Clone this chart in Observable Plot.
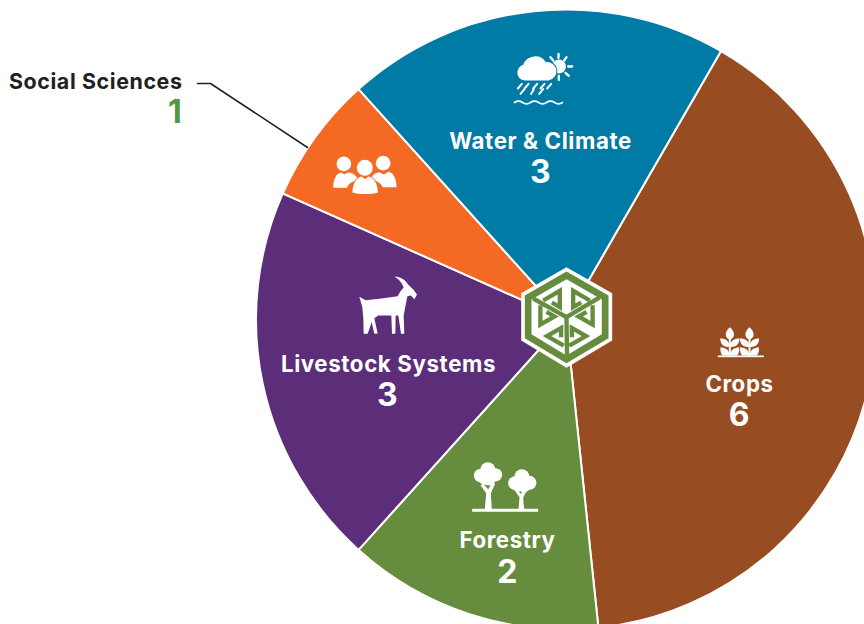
<!DOCTYPE html>
<html>
<head>
<meta charset="utf-8">
<script src="https://cdn.jsdelivr.net/npm/d3@7"></script>
<script src="https://cdn.jsdelivr.net/npm/@observablehq/plot@0.6"></script>
<style>html,body{margin:0;padding:0;background:#fff;overflow:hidden}svg{display:block}</style>
</head>
<body>
<div id="chart"></div>
<script>
const categories = ["Crops", "Forestry", "Livestock Systems", "Social Sciences", "Water & Climate"];
const counts = [6, 2, 3, 1, 3];
const colors = ["#984c22", "#668c3e", "#5c2d78", "#f46a25", "#007ba5"];
const rows = categories.map((category, i) => ({category, count: counts[i]}));

const W = 864, H = 624, CX = 566, CY = 319.5, R = 310;
const START = Math.PI / 6;

const svgUri = (w, h, body) =>
  "data:image/svg+xml," + encodeURIComponent(`<svg xmlns="http://www.w3.org/2000/svg" viewBox="0 0 ${w} ${h}">${body}</svg>`);

const cropPlant = x => `
  <rect x="${x - 3}" y="48" width="6" height="58"/>
  <path d="M${x} 20C${x + 17} 34 ${x + 15} 52 ${x + 2} 56H${x - 2}C${x - 15} 52 ${x - 17} 34 ${x} 20z"/>
  <path d="M${x - 29} 54C${x - 12} 54 ${x - 2} 60 ${x - 1} 79C${x - 20} 81 ${x - 28} 70 ${x - 29} 54z"/>
  <path d="M${x + 29} 54C${x + 12} 54 ${x + 2} 60 ${x + 1} 79C${x + 20} 81 ${x + 28} 70 ${x + 29} 54z"/>
  <path d="M${x - 28} 80C${x - 14} 82 ${x - 2} 86 ${x - 1} 105H${x - 22}C${x - 28} 98 ${x - 29} 90 ${x - 28} 80z"/>
  <path d="M${x + 28} 80C${x + 14} 82 ${x + 2} 86 ${x + 1} 105H${x + 22}C${x + 28} 98 ${x + 29} 90 ${x + 28} 80z"/>`;

const icons = {
  water: svgUri(270, 240, `
    <g stroke="#fff" stroke-width="7" stroke-linecap="round">
      <path d="M174 40V52M198 50L191 60M215 78H203M205 106L195 97M175 118V106M150 50L158 60"/>
    </g>
    <circle cx="175" cy="78" r="21" fill="#fff"/>
    <path d="M72 120a24 24 0 0 1-4-47a38 38 0 0 1 68-8a26 26 0 0 1 8 55z" fill="#fff" stroke="#007ba5" stroke-width="6" paint-order="stroke"/>
    <g stroke="#fff" stroke-width="6" stroke-linecap="round">
      <path d="M64 130L52 144M84 130L72 144M110 130L98 144M132 130L120 144M152 130L140 144M72 146L60 160M100 146L92 160M128 146L116 160"/>
    </g>
    <path d="M42 186q12-8 24 0t24 0t24 0t24 0t24 0t24 0" fill="none" stroke="#fff" stroke-width="5" stroke-linecap="round"/>`),
  people: svgUri(330, 180, `
    <g fill="#fff">
      <circle cx="70" cy="70" r="22"/>
      <circle cx="188" cy="68" r="22"/>
      <path d="M38 142c0-26 10-44 24-46l10 6l10-6c14 0 26 8 30 22c-20 6-30 14-32 24z"/>
      <path d="M228 140c0-26-10-44-24-46l-14 8l-12-6c-14 0-24 8-26 20c20 6 32 14 34 24z"/>
      <path d="M96 156c0-26 12-46 28-48l10 8l10-8c16 2 28 22 28 48c-20 6-56 6-76 0z" stroke="#f46a25" stroke-width="5" paint-order="stroke"/>
      <circle cx="133" cy="82" r="24"/>
    </g>`),
  goat: svgUri(255, 240, `
    <path fill="#fff" d="M43 94L62 104L115 98L158 92L166 78L176 66C170 50 160 40 148 33C168 34 182 44 190 58L205 72L216 87L208 101L198 90L187 92L176 150L178 205L168 205L160 150L152 150L151 205L141 205L139 150L100 150L88 158L98 204L88 205L80 170L68 205L56 205L55 160L52 125z"/>`),
  trees: svgUri(270, 210, `
    <g fill="#fff">
      <rect x="35" y="175" width="198" height="9" rx="2"/>
      <path d="M73 178L77 128L60 104L68 100L83 116L96 96L104 100L91 128L94 178z"/>
      <circle cx="60" cy="75" r="20"/><circle cx="82" cy="57" r="22"/><circle cx="105" cy="73" r="20"/><circle cx="85" cy="84" r="21"/><circle cx="72" cy="85" r="18"/><circle cx="82" cy="70" r="24"/>
      <path d="M174 178L177 140L161 118L168 115L181 130L193 113L200 117L188 142L191 178z"/>
      <circle cx="164" cy="98" r="21"/><circle cx="184" cy="78" r="22"/><circle cx="207" cy="97" r="21"/><circle cx="190" cy="105" r="20"/><circle cx="175" cy="105" r="18"/><circle cx="185" cy="92" r="24"/>
    </g>`),
  crops: svgUri(240, 150, `<g fill="#fff"><rect x="52" y="105" width="138" height="5"/>${[88, 147].map(cropPlant).join("")}</g>`),
  logo: svgUri(390, 390, `
    <path fill="#fff" d="M198 50L335 128V270L198 352L62 270V128z"/>
    <path fill="#668c3e" d="M198 63L324 135V263L198 338L73 263V135z"/>
    <path fill="#fff" d="M198 86L304 147V251L198 315L93 251V147z"/>
    <g fill="none" stroke="#668c3e" stroke-width="13" stroke-linejoin="miter" transform="translate(198 200)">
      ${[0, 120, 240].map(a => `<g transform="rotate(${a})">
        <path d="M0 0L-100 -56"/>
        <path d="M-70 -50L-20 -79V-30L-44 -44"/>
        <path d="M70 -50L20 -79V-30L44 -44"/>
      </g>`).join("")}
    </g>`)
};

const label = (text, dx, dy, size, fill = "#fff", textAnchor = "middle") =>
  Plot.text([text], {frameAnchor: "top-left", dx, dy, fontSize: size, fontWeight: 700, fill, textAnchor, lineAnchor: "bottom", text: d => d});

const icon = (src, dx, dy, width, height) =>
  Plot.image([src], {src: d => d, frameAnchor: "top-left", dx, dy, width, height});

const chart = Plot.plot({
  width: W,
  height: H,
  margin: 0,
  style: {fontFamily: "Inter, sans-serif", background: "#fff", letterSpacing: "0.6px"},
  x: {domain: [0, d3.sum(counts)], range: [START, START + 2 * Math.PI], axis: null},
  color: {domain: categories, range: colors},
  marks: [
    Plot.barX(rows, Plot.stackX({
      x: "count",
      fill: "category",
      order: null,
      render(index, scales, values) {
        const g = d3.create("svg:g").attr("transform", `translate(${CX},${CY})`);
        const arc = d3.arc().innerRadius(0).outerRadius(R);
        g.selectAll("path").data(Array.from(index)).join("path")
          .attr("d", i => arc({startAngle: values.x1[i], endAngle: values.x2[i]}))
          .attr("fill", i => values.fill[i])
          .attr("stroke", "#fff")
          .attr("stroke-width", 2);
        return g.node();
      }
    })),
    icon(icons.logo, 565, 315, 130, 130),
    icon(icons.water, 545, 80, 90, 80),
    icon(icons.people, 375, 170, 110, 60),
    icon(icons.goat, 387, 305, 85, 80),
    icon(icons.trees, 505, 485, 90, 70),
    icon(icons.crops, 740, 345, 80, 50),
    label(categories[4], 540, 148, 22.3),
    label(String(counts[4]), 540, 182, 32),
    label(categories[2], 388, 371, 22.3),
    label(String(counts[2]), 387, 405, 32),
    label(categories[0], 739, 391, 22.3),
    label(String(counts[0]), 739, 425, 32),
    label(categories[1], 507, 547, 22.3),
    label(String(counts[1]), 507, 582, 32),
    label(categories[3], 182, 88, 21.4, "#231f20", "end"),
    label(String(counts[3]), 182, 122, 32, "#4f9a3f", "end"),
    Plot.line([[197, 83], [210, 83], [307, 147]], {
      x: {value: d => d[0], scale: null},
      y: {value: d => d[1], scale: null},
      stroke: "#231f20",
      strokeWidth: 1.5
    })
  ]
});
document.getElementById("chart").append(chart);
</script>
</body>
</html>
